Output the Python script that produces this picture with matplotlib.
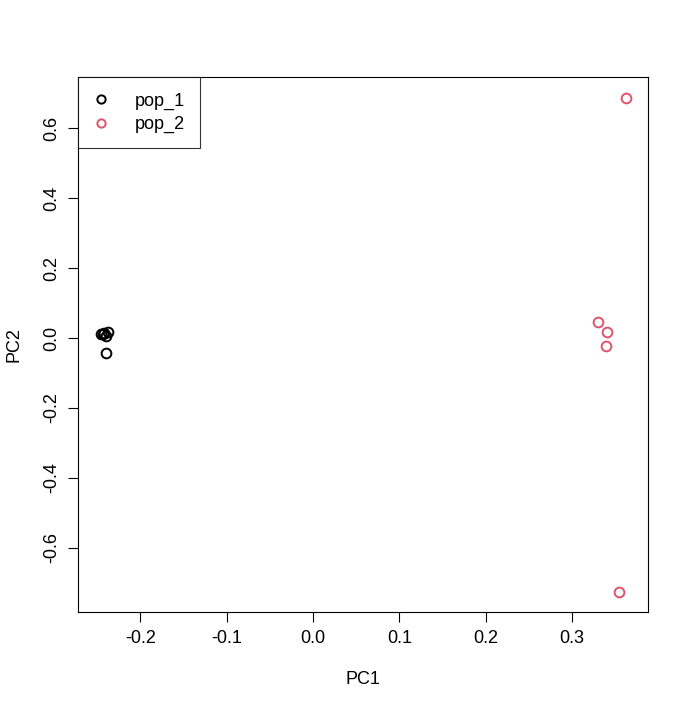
import matplotlib.pyplot as plt

plt.rcParams['font.family'] = ['Liberation Sans', 'DejaVu Sans']

# PCA scores
pop1_pc1 = [-0.245, -0.243, -0.242, -0.240, -0.237, -0.240]
pop1_pc2 = [0.013, 0.011, 0.015, 0.006, 0.017, -0.043]
pop2_pc1 = [0.362, 0.330, 0.341, 0.339, 0.354]
pop2_pc2 = [0.686, 0.046, 0.017, -0.023, -0.726]
labels = ['pop_1', 'pop_2']
colors = ['black', '#DF536B']

fig = plt.figure(figsize=(6.88, 7.10), dpi=100)
ax = fig.add_axes([0.1134, 0.138, 0.8285, 0.7535])

ax.plot(pop1_pc1, pop1_pc2, 'o', mfc='none', mec=colors[0], mew=1.4, ms=7, label=labels[0])
ax.plot(pop2_pc1, pop2_pc2, 'o', mfc='none', mec=colors[1], mew=1.4, ms=7, label=labels[1])

ax.set_xlim(-0.272, 0.388)
ax.set_ylim(-0.783, 0.746)
ax.set_xticks([-0.2, -0.1, 0.0, 0.1, 0.2, 0.3])
ax.set_xticklabels(['-0.2', '-0.1', '0.0', '0.1', '0.2', '0.3'])
ax.set_yticks([-0.6, -0.4, -0.2, 0.0, 0.2, 0.4, 0.6])
ax.set_yticklabels(['-0.6', '-0.4', '-0.2', '0.0', '0.2', '0.4', '0.6'], rotation=90, va='center')
ax.tick_params(labelsize=13, length=7, width=0.8, pad=6)
for s in ax.spines.values():
    s.set_linewidth(0.8)

ax.set_xlabel('PC1', fontsize=13, labelpad=17)
ax.set_ylabel('PC2', fontsize=13, labelpad=15)

leg = ax.legend(loc='upper left', fontsize=13, frameon=True, fancybox=False,
                borderaxespad=0, handletextpad=1.4, borderpad=0.85, labelspacing=0.35,
                handlelength=0.9, markerscale=0.85)
leg.get_frame().set_edgecolor('black')
leg.get_frame().set_linewidth(0.8)

fig.savefig('out.png', dpi=100)
